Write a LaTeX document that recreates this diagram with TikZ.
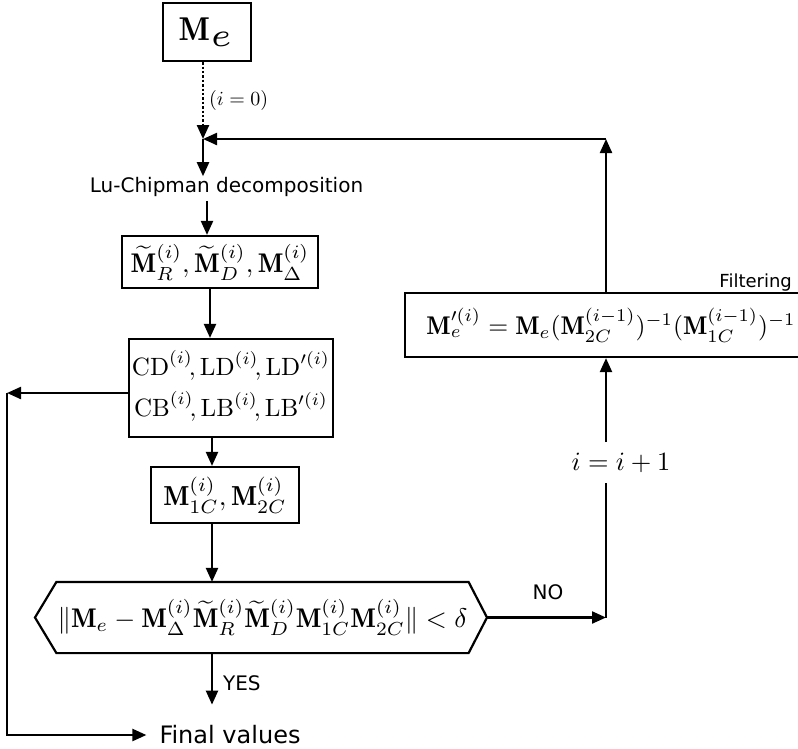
\documentclass[tikz,border=0pt]{standalone}
\usepackage{amsmath}
\usepackage{fontspec}
\setsansfont{DejaVu Sans}
\usetikzlibrary{arrows.meta}
\newcommand{\mysz}[2]{\scalebox{#1}{#2}}
\newcommand{\tinymath}[1]{{\fontsize{5}{6}\selectfont#1}}
\begin{document}
\begin{tikzpicture}[x=1pt,y=-1pt,
  line width=2.2pt,
  arr/.style={-{Triangle[length=14pt,width=12pt]}},
  boxn/.style={draw,inner sep=0pt},
  mathn/.style={inner sep=0pt},
  lbl/.style={inner sep=0pt,font=\sffamily\fontsize{20}{24}\selectfont}
]
\useasboundingbox (0,0) rectangle (798,748);

% nodes
\node[boxn,minimum width=88pt,minimum height=58pt] (b1) at (207,32) {\mysz{6.6}{\tinymath{$\mathbf{M}_e$}}};
\node[mathn,anchor=west] (i0) at (208,100) {\mysz{2.0}{$(i=0)$}};
\node[lbl] (lc) at (226.5,187) {Lu-Chipman decomposition};
\node[boxn,minimum width=196pt,minimum height=52pt] (b2) at (220,262)
  {\mysz{2.7}{$\widetilde{\mathbf{M}}^{(i)}_R,\widetilde{\mathbf{M}}^{(i)}_D,\mathbf{M}^{(i)}_\Delta$}};
\node[boxn,minimum width=204pt,minimum height=98pt] (b3) at (231,388)
  {\mysz{2.5}{$\begin{array}{@{}c@{}}\mathrm{CD}^{(i)}\!,\mathrm{LD}^{(i)}\!,\mathrm{LD}'^{(i)}\\[3pt]\mathrm{CB}^{(i)}\!,\mathrm{LB}^{(i)}\!,\mathrm{LB}'^{(i)}\end{array}$}};
\node[boxn,minimum width=148pt,minimum height=56pt] (b4) at (225,495)
  {\mysz{2.75}{$\mathbf{M}^{(i)}_{1C},\mathbf{M}^{(i)}_{2C}$}};
\node[mathn,minimum width=385pt,minimum height=69pt] (hx) at (262.5,617.5)
  {\mysz{2.7}{$\|\mathbf{M}_e-\mathbf{M}^{(i)}_\Delta\widetilde{\mathbf{M}}^{(i)}_R\widetilde{\mathbf{M}}^{(i)}_D\mathbf{M}^{(i)}_{1C}\mathbf{M}^{(i)}_{2C}\|<\delta$}};
\coordinate (hxl) at (35,617.5);
\coordinate (hxr) at (487,617.5);
\draw (hx.north west) -- (hx.north east) -- (hxr) -- (hx.south east) -- (hx.south west) -- (hxl) -- cycle;
\node[inner sep=0pt,font=\sffamily\fontsize{24}{28}\selectfont] (fin) at (230,735) {Final values};
\node[lbl,anchor=west] (yes) at (222,683) {YES};
\node[lbl] (no) at (548,592) {NO};
\node[boxn,minimum width=412pt,minimum height=64pt] (b5) at (611,325)
  {\mysz{2.56}{$\mathbf{M}'^{(i)}_e=\mathbf{M}_e(\mathbf{M}^{(i-1)}_{2C})^{-1}(\mathbf{M}^{(i-1)}_{1C})^{-1}$}};
\node[inner sep=0pt,font=\sffamily\fontsize{18}{22}\selectfont,anchor=base east] (filt) at (793,287) {Filtering};
\node[mathn] (inc) at (621,463) {\mysz{2.64}{$i=i+1$}};

% helper coordinates
\coordinate (j) at (203,139);
\coordinate (ctop) at (606,139);
\coordinate (cr) at (606,617.5);
\coordinate (cbelow) at (606,483);
\coordinate (cabove) at (606,442);
\coordinate (l1) at (7,393);
\coordinate (l2) at (7,735);
\coordinate (fw) at ([xshift=-12pt]fin.west);
\coordinate (lcout) at ([xshift=-19.5pt,yshift=-3pt]lc.south);
\coordinate (b2out) at ([xshift=-10pt]b2.south);
\coordinate (b3out) at ([xshift=-19pt]b3.south);
\coordinate (b4out) at ([xshift=-13pt]b4.south);
\coordinate (hxout) at ([xshift=-50.5pt]hx.south);
\coordinate (finin) at ([xshift=-18pt,yshift=20pt]fin.north);

% connectors
\draw[arr,line width=2.4pt,dash pattern=on 2.4pt off 2pt] (j |- b1.south) -- (j);
\draw[arr] (j) -- (j |- lc.north);
\draw[arr] (lcout) -- (lcout |- b2.north);
\draw[arr] (b2out) -- (b2out |- b3.north);
\draw[arr] (b3out) -- (b3out |- b4.north);
\draw[arr] (b4out) -- (b4out |- hx.north);
\draw[arr] (hxout) -- (hxout |- finin);
\draw[arr] (hxr) -- (cr);
\draw (cr) -- (cbelow);
\draw[arr] (cabove) -- (cabove |- b5.south);
\draw[arr] (ctop |- b5.north) -- (ctop);
\draw[arr] (ctop) -- (j);
\draw[arr] (b3.west |- l1) -- (l1);
\draw[arr] (l1) -- (l2) -- (fw);
\end{tikzpicture}
\end{document}
